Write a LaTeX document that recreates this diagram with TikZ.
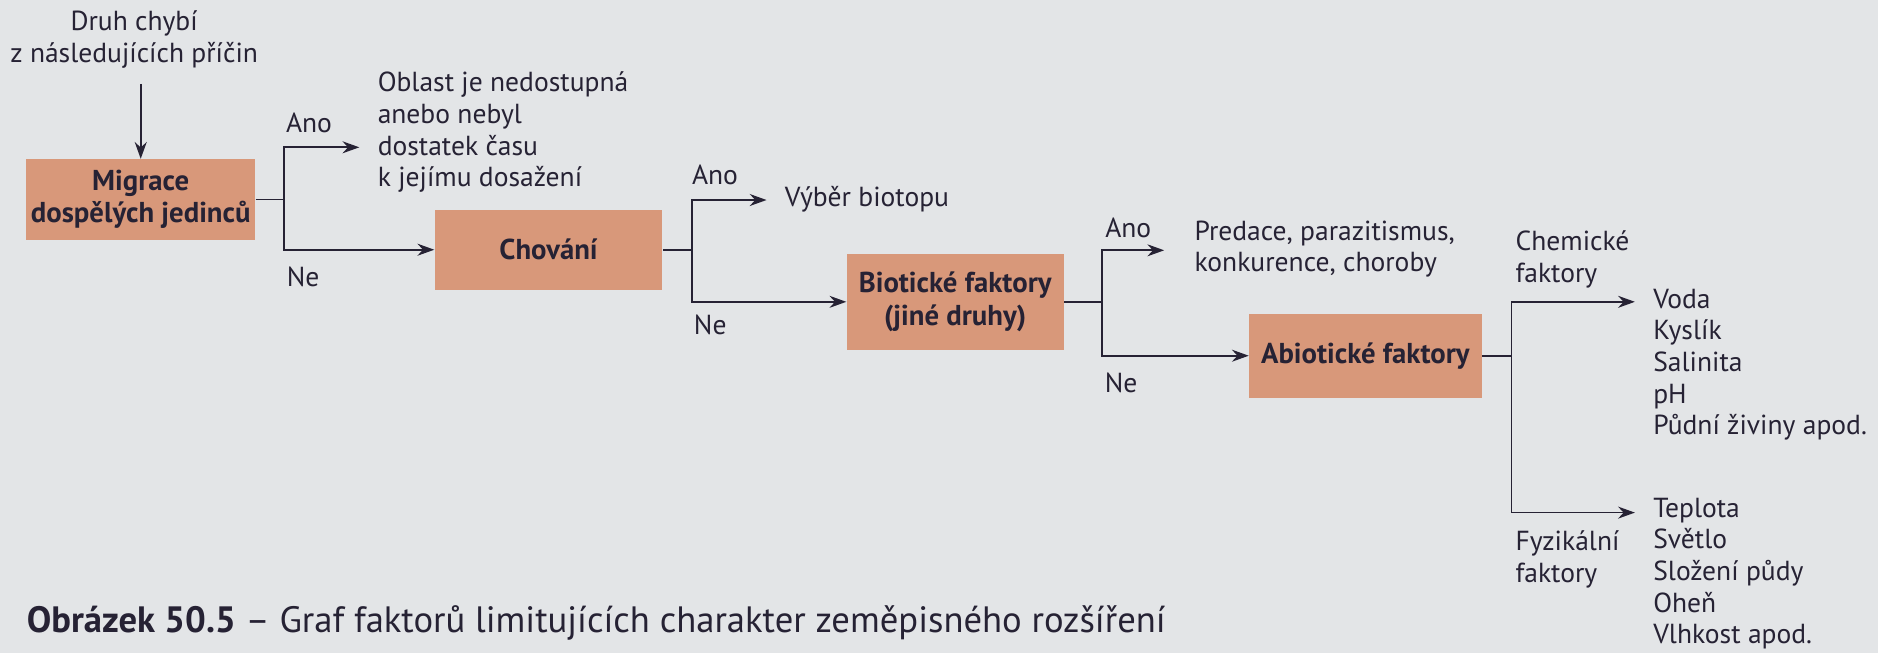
\documentclass[tikz,border=0pt]{standalone}
\usepackage{fontspec}
\setmainfont{PT Sans}
\usetikzlibrary{arrows.meta}
\definecolor{bg}{RGB}{227,229,231}
\definecolor{boxc}{RGB}{216,152,122}
\definecolor{ink}{RGB}{38,34,52}
\tikzset{
  box/.style={fill=boxc, draw=none, inner sep=0pt, align=center, font=\fontsize{12}{13.5}\selectfont\bfseries, text=ink},
  txt/.style={inner sep=0pt, align=left, anchor=west, font=\fontsize{11.5}{13.2}\selectfont, text=ink},
  lbl/.style={inner sep=0pt, font=\fontsize{11.5}{13.2}\selectfont, text=ink},
  arr/.style={-{Stealth[length=7pt,width=5pt]}, line width=0.7pt, draw=ink},
  ln/.style={line width=0.7pt, draw=ink}
}
\begin{document}
\begin{tikzpicture}[x=0.5pt,y=-0.5pt]
\fill[bg] (0,0) rectangle (1568,545);
\useasboundingbox (0,0) rectangle (1568,545);
% boxes
\node[box, minimum width=95.5pt, minimum height=33.5pt] (mig) at (117.5,166.5) {Migrace\\dospělých jedinců};
\node[box, minimum width=95pt, minimum height=33.5pt] (chov) at (458,208.5) {Chování};
\node[box, minimum width=90.5pt, minimum height=40pt] (bio) at (797.5,252) {Biotické faktory\\(jiné druhy)};
\node[box, minimum width=97pt, minimum height=35pt] (abio) at (1140,297) {Abiotické faktory};
% texts
\node[lbl, align=center] (druh) at (112,33) {Druh chybí\\z následujících příčin};
\node[txt] (obl) at (315,110.5) {Oblast je nedostupná\\anebo nebyl\\dostatek času\\k jejímu dosažení};
\node[txt] (vyb) at (655,166) {Výběr biotopu};
\node[txt] (pred) at (997,208) {Predace, parazitismus,\\konkurence, choroby};
\node[txt] (chem) at (1265,216.5) {Chemické\\faktory};
\node[txt] (chl) at (1380,304.5) {Voda\\Kyslík\\Salinita\\pH\\Půdní živiny apod.};
\node[txt] (fyz) at (1265,467) {Fyzikální\\faktory};
\node[txt] (fyl) at (1380,479) {Teplota\\Světlo\\Složení půdy\\Oheň\\Vlhkost apod.};
\node[lbl] (ano1) at (258,103) {Ano};
\node[lbl] (ne1) at (253,231) {Ne};
\node[lbl] (ano2) at (597,146) {Ano};
\node[lbl] (ne2) at (593,271) {Ne};
\node[lbl] (ano3) at (942,190) {Ano};
\node[lbl] (ne3) at (936,320) {Ne};
\node[txt, font=\fontsize{15.3}{17}\selectfont] (cap) at (22,520) {\textbf{Obrázek 50.5} – Graf faktorů limitujících charakter zeměpisného rozšíření};
% coordinates
\coordinate (s0) at (117.5,70);
\coordinate (j1) at (237,166.5);
\coordinate (a1) at (300,123);
\coordinate (j2) at (578,208.5);
\coordinate (a2) at (640,167);
\coordinate (j3) at (920,252);
\coordinate (a3) at (972,209);
\coordinate (j4) at (1262,297);
\coordinate (a4) at (1365,252);
\coordinate (a5) at (1365,428);
% connectors
\draw[arr] (s0) -- (mig.north);
\draw[ln] (mig.east) -- (j1);
\draw[arr] (j1) |- (a1);
\draw[arr] (j1) |- (chov.west);
\draw[ln] (chov.east) -- (j2);
\draw[arr] (j2) |- (a2);
\draw[arr] (j2) |- (bio.west);
\draw[ln] (bio.east) -- (j3);
\draw[arr] (j3) |- (a3);
\draw[arr] (j3) |- (abio.west);
\draw[ln] (abio.east) -- (j4);
\draw[arr] (j4) |- (a4);
\draw[arr] (j4) |- (a5);
\end{tikzpicture}
\end{document}
